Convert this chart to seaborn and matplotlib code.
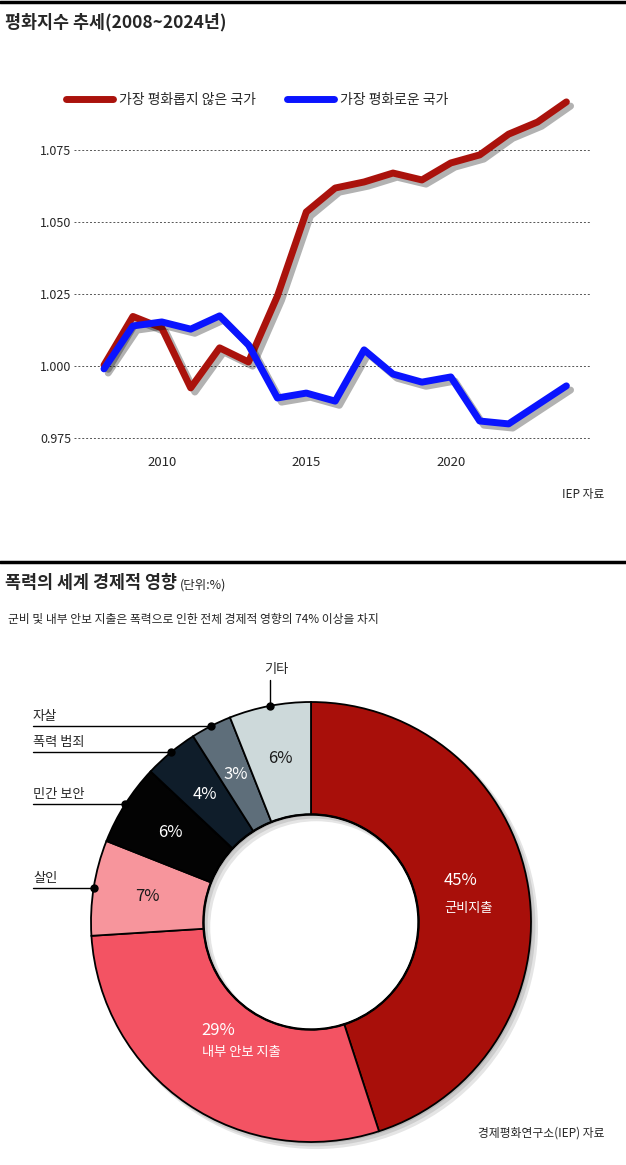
import numpy as np
import pandas as pd
import matplotlib
matplotlib.use('Agg')
import matplotlib.pyplot as plt
import matplotlib.patheffects as pe
from matplotlib.lines import Line2D
from matplotlib.patches import Wedge
import seaborn as sns

# ---- data: peace index trend ----
years = list(range(2008, 2025))
least_peaceful = [1.0003, 1.0172, 1.0132, 0.9924, 1.0063, 1.0014, 1.0243, 1.0535,
                  1.0618, 1.0639, 1.0670, 1.0646, 1.0705, 1.0733, 1.0805, 1.0847, 1.0917]
most_peaceful = [0.9990, 1.0139, 1.0153, 1.0128, 1.0174, 1.0073, 0.9889, 0.9906,
                 0.9878, 1.0056, 0.9972, 0.9944, 0.9962, 0.9809, 0.9799, 0.9865, 0.9931]
series_names = ['가장 평화롭지 않은 국가', '가장 평화로운 국가']
series_colors = ['#AA120C', '#0A14FF']
y_ticks = [0.975, 1.000, 1.025, 1.050, 1.075]
x_ticks = [2010, 2015, 2020]

# ---- data: economic impact of violence ----
impact_labels = ['군비지출', '내부 안보 지출', '살인', '민간 보안', '폭력 범죄', '자살', '기타']
impact_values = [45, 29, 7, 6, 4, 3, 6]
impact_colors = ['#A80F0A', '#F35363', '#F7959C', '#030303', '#0F1D2A', '#5E6E7A', '#CDD9DA']
impact_text_colors = ['white', 'white', '#1a1a1a', 'white', 'white', 'white', '#1a1a1a']

W, H = 626, 1165
def fx(px):
    return px / W
def fy(px):
    return 1 - px / H

sns.set_style('white')
plt.rcParams['font.family'] = ['Noto Sans CJK KR', 'DejaVu Sans']

fig = plt.figure(figsize=(W / 100, H / 100), dpi=100)

# separator bars
fig.add_artist(Line2D([0, 1], [fy(1.5), fy(1.5)], color='black', lw=2.5))
fig.add_artist(Line2D([0, 1], [fy(562), fy(562)], color='black', lw=2.5))

fig.text(fx(5), fy(22), '평화지수 추세(2008~2024년)', fontsize=12.5, fontweight='bold', va='center')

# ---- line chart ----
left, right, top, bottom = 74, 590, 90, 450
ax = fig.add_axes([fx(left), fy(bottom), (right - left) / W, (bottom - top) / H])

df = pd.DataFrame({
    'year': years * 2,
    'value': least_peaceful + most_peaceful,
    'series': [series_names[0]] * len(years) + [series_names[1]] * len(years),
})
sns.lineplot(data=df, x='year', y='value', hue='series', palette=series_colors,
             linewidth=5, legend=False, ax=ax,
             solid_capstyle='round', solid_joinstyle='round')
for line in ax.lines:
    line.set_path_effects([pe.SimpleLineShadow(offset=(3, -3), shadow_color='black', alpha=0.3),
                           pe.Normal()])

px_per_year = 28.9
ax.set_xlim(2008 - (104 - left) / px_per_year, 2008 + (right - 104) / px_per_year)
px_per_unit = 2880
ax.set_ylim(1 - (bottom - 366) / px_per_unit, 1 + (366 - top) / px_per_unit)
ax.set_yticks(y_ticks)
ax.set_yticklabels([f'{v:.3f}' for v in y_ticks])
ax.set_xticks(x_ticks)
ax.set_xticklabels([str(v) for v in x_ticks])
ax.tick_params(axis='y', length=0, pad=2, labelsize=9)
ax.tick_params(axis='x', length=0, pad=4.5, labelsize=9.5)
ax.set_xlabel('')
ax.set_ylabel('')
for s in ax.spines.values():
    s.set_visible(False)
ax.yaxis.grid(True, color='#555555', linestyle=(0, (2, 2)), linewidth=0.7)
ax.xaxis.grid(False)
ax.set_axisbelow(True)

handles = [Line2D([0], [0], color=c, lw=5, solid_capstyle='round') for c in series_colors]
fig.legend(handles, series_names, loc='center left', bbox_to_anchor=(fx(66), fy(100)),
           ncol=2, frameon=False, fontsize=10, handlelength=3.4, handletextpad=0.45,
           columnspacing=2.2, borderpad=0, borderaxespad=0)

fig.text(fx(604), fy(495), 'IEP 자료', fontsize=8.5, ha='right', va='center')

# ---- donut chart ----
fig.text(fx(5), fy(583), '폭력의 세계 경제적 영향', fontsize=12.5, fontweight='bold', va='center')
t1 = fig.texts[-1]
fig.text(fx(8), fy(619), '군비 및 내부 안보 지출은 폭력으로 인한 전체 경제적 영향의 74% 이상을 차지',
         fontsize=8.5, va='center')

cx, cy, scale = 311, 922, 220
half = 1.05
axp = fig.add_axes([fx(cx - half * scale), fy(cy + half * scale), 2 * half * scale / W, 2 * half * scale / H])
axp.annotate('(단위:%)', xy=(1, 0), xycoords=t1, xytext=(2, 0), textcoords='offset points',
             fontsize=9, va='bottom', ha='left', annotation_clip=False)

ring_width = 0.51
# soft drop shadow toward the lower right
for k in range(3):
    off = 0.008 * (k + 1)
    axp.add_patch(Wedge((off, -off), 1 + 0.004 * k, 0, 360,
                        width=ring_width + 0.008 * k, color='black', alpha=0.1, lw=0))
wedges, _ = axp.pie(impact_values, colors=impact_colors, startangle=90, counterclock=False,
                    radius=1, wedgeprops=dict(width=ring_width, edgecolor='black', linewidth=1.3))
axp.add_patch(Wedge((0, 0), 1 - ring_width, 0, 360, width=0.004, color='black', lw=0.8))

total = sum(impact_values)
cum = np.cumsum([0] + impact_values)
mid_angles = [np.deg2rad(90 - 360 * (cum[i] + impact_values[i] / 2) / total) for i in range(len(impact_values))]

r_lab = 0.755
for i, (lab, val) in enumerate(zip(impact_labels, impact_values)):
    a = mid_angles[i]
    x, y = r_lab * np.cos(a), r_lab * np.sin(a)
    col = impact_text_colors[i]
    if i == 0:
        axp.text(x - 31 / scale, y + 16 / scale, f'{val}%', color=col, fontsize=12,
                 fontweight='medium', ha='left', va='center')
        axp.text(x - 31 / scale, y - 12 / scale, lab, color=col, fontsize=9.5, ha='left', va='center')
    elif i == 1:
        axp.text(x - 16 / scale, y + 29 / scale, f'{val}%', color=col, fontsize=12,
                 fontweight='medium', ha='left', va='center')
        axp.text(x - 16 / scale, y + 7 / scale, lab, color=col, fontsize=9.5, ha='left', va='center')
    else:
        axp.text(x, y, f'{val}%', color=col, fontsize=12, fontweight='medium', ha='center', va='center')

# leader labels for the small slices
label_x = (33 - cx) / scale
for i in range(2, len(impact_values)):
    a = mid_angles[i]
    dx, dy = np.cos(a), np.sin(a)
    if impact_labels[i] == '기타':
        axp.plot([dx, dx], [dy, dy + 26 / scale], color='black', lw=1, clip_on=False)
        axp.text(dx + 7 / scale, dy + 36 / scale, impact_labels[i], fontsize=9.5, ha='center', va='center')
    else:
        axp.plot([label_x, dx], [dy, dy], color='black', lw=1, clip_on=False)
        axp.text(label_x, dy + 3 / scale, impact_labels[i], fontsize=9.5, ha='left', va='bottom')
    axp.plot(dx, dy, 'o', color='black', ms=5, clip_on=False)

axp.set_xlim(-half, half)
axp.set_ylim(-half, half)
axp.set_aspect('equal')
axp.axis('off')

fig.text(fx(605), fy(1133), '경제평화연구소(IEP) 자료', fontsize=8.5, ha='right', va='center')

fig.savefig('out.png', dpi=100)
